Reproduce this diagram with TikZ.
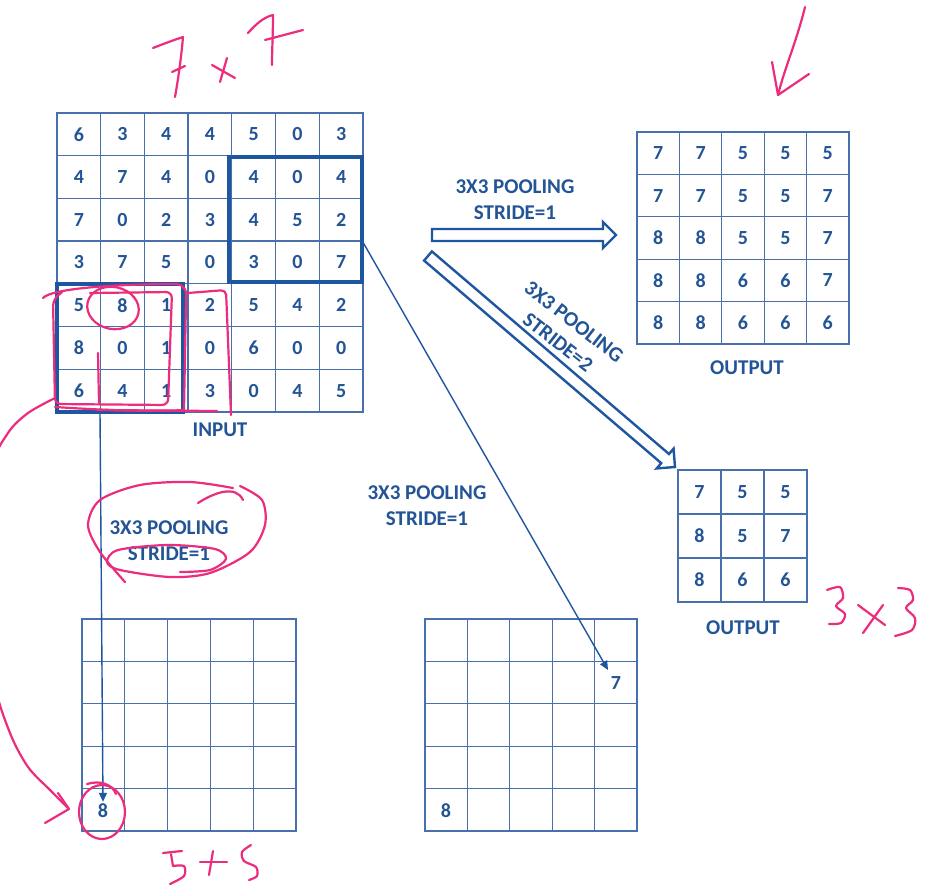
\documentclass[tikz,border=0pt]{standalone}
\usepackage{fontspec}
\setmainfont{Carlito}
\usetikzlibrary{arrows.meta,calc}
\definecolor{txtblue}{RGB}{34,84,150}
\definecolor{gridblue}{RGB}{72,112,172}
\definecolor{boxblue}{RGB}{30,86,160}
\definecolor{pinkink}{RGB}{236,44,124}
\tikzset{
  gridline/.style={draw=gridblue, line width=1.3pt},
  gridframe/.style={draw=gridblue, line width=1.3pt, inner sep=0pt, outer sep=0pt},
  winbox/.style={draw=boxblue, line width=3.6pt, inner sep=0pt, outer sep=0pt},
  digit/.style={text=txtblue, font=\fontsize{20}{24}\selectfont\bfseries, inner sep=2pt},
  lbl/.style={text=txtblue, font=\fontsize{21}{27}\selectfont\bfseries, inner sep=1pt, align=center},
  thinarrow/.style={draw=boxblue, line width=1.4pt, -{Triangle[length=9pt,width=8pt]}},
  hollow/.style={draw=boxblue, line width=2.4pt, line join=miter},
  pen/.style={draw=pinkink, line width=2.2pt, line cap=round, line join=round},
}
\newcommand\pgrid[6]{%
  \pgfmathsetmacro\gw{#4*#5}\pgfmathsetmacro\gh{#4*#6}%
  \node[gridframe, anchor=north west, minimum width=\gw pt, minimum height=\gh pt] (#1) at (#2,#3) {};
  \pgfmathtruncatemacro\nm{#4-1}%
  \foreach \i in {1,...,\nm}{
    \draw[gridline] ({#2+\i*#5},#3) -- ({#2+\i*#5},{#3+\gh});
    \draw[gridline] (#2,{#3+\i*#6}) -- ({#2+\gw},{#3+\i*#6});
  }}
\newcommand\hollowarrow[2]{%
  \path ($(#2)!13pt!(#1)$) coordinate (hb);
  \draw[hollow] ($(#1)!6pt!90:(#2)$) -- ($(hb)!6pt!90:(#2)$) -- ($(hb)!13pt!90:(#2)$)
    -- (#2) -- ($(hb)!13pt!-90:(#2)$) -- ($(hb)!6pt!-90:(#2)$) -- ($(#1)!6pt!-90:(#2)$) -- cycle;}
\begin{document}
\begin{tikzpicture}[x=1pt,y=-1pt]
\useasboundingbox (0,0) rectangle (931,896);
\fill[white] (0,0) rectangle (931,896);

% ---------- grids ----------
\pgrid{input}{57}{113}{7}{43.71}{42.71}
\pgrid{outA}{637}{132}{5}{42.4}{42.4}
\pgrid{outB}{678}{470}{3}{43}{44}
\pgrid{resL}{82}{619}{5}{42.8}{42.4}
\pgrid{resR}{425}{619}{5}{42.4}{42.4}

% ---------- digits ----------
\foreach \row [count=\r from 0] in {{6,3,4,4,5,0,3},{4,7,4,0,4,0,4},{7,0,2,3,4,5,2},{3,7,5,0,3,0,7},{5,8,1,2,5,4,2},{8,0,1,0,6,0,0},{6,4,1,3,0,4,5}}{
  \foreach \v [count=\c from 0] in \row {
    \node[digit] (in-\r-\c) at ({57+(\c+0.5)*43.71},{113+(\r+0.5)*42.71}) {\v};
  }}
\foreach \row [count=\r from 0] in {{7,7,5,5,5},{7,7,5,5,7},{8,8,5,5,7},{8,8,6,6,7},{8,8,6,6,6}}{
  \foreach \v [count=\c from 0] in \row {
    \node[digit] (oa-\r-\c) at ({637+(\c+0.5)*42.4},{132+(\r+0.5)*42.4}) {\v};
  }}
\foreach \row [count=\r from 0] in {{7,5,5},{8,5,7},{8,6,6}}{
  \foreach \v [count=\c from 0] in \row {
    \node[digit] (ob-\r-\c) at ({678+(\c+0.5)*43},{470+(\r+0.5)*44}) {\v};
  }}
\node[digit] (eightL) at (103,811) {8};
\node[digit] (eightR) at (446,811) {8};
\node[digit] (seven) at (616,683) {7};

% ---------- windows ----------
\node[winbox, anchor=north west, minimum width=133pt, minimum height=125pt] (winTR) at (229,157) {};
\node[winbox, anchor=north west, minimum width=126pt, minimum height=128pt] (winBL) at (57,284) {};

% ---------- labels ----------
\node[lbl] (inlbl) at (220,430) {INPUT};
\node[lbl] (outAlbl) at (747,368) {OUTPUT};
\node[lbl] (outBlbl) at (743,628) {OUTPUT};
\node[lbl] (t1) at (515,200) {3X3 POOLING\\[-1pt]STRIDE=1};
\node[lbl] (t2) at (427,506) {3X3 POOLING\\[-1pt]STRIDE=1};
\node[lbl] (t3) at (169,541) {3X3 POOLING\\[-1pt]STRIDE=1};
\node[lbl, rotate=-38] (t4) at (566,332) {3X3 POOLING\\[-1pt]STRIDE=2};

% ---------- arrows ----------
\coordinate (a1s) at (432,235);
\coordinate (a1e) at (616,235);
\hollowarrow{a1s}{a1e}
\coordinate (a2s) at (428,256);
\coordinate (a2e) at (675,467);
\hollowarrow{a2s}{a2e}
\coordinate (tip7) at (608,670);
\draw[thinarrow] ([yshift=-21pt]winTR.east) -- (tip7);
\draw[thinarrow] ([xshift=-20pt]winBL.south) -- (eightL.north);

% ---------- pink ink ----------
% 7 x 7
\draw[pen] (153,48) .. controls (163,44) and (174,40) .. (183,37) .. controls (181,60) and (178,80) .. (175,97);
\draw[pen] (172,72) -- (185,66);
\draw[pen] (212,65) -- (235,78);
\draw[pen] (227,58) -- (220,82);
\draw[pen] (248,33) .. controls (256,24) and (264,17) .. (273,15) .. controls (273,32) and (272,50) .. (272,65);
\draw[pen] (265,40) -- (303,30);
% top-right arrow
\draw[pen] (805,7) .. controls (797,40) and (784,70) .. (778,95);
\draw[pen] (772,62) -- (778,95) -- (809,74);
% 3x3
\draw[pen] plot[smooth] coordinates {(827,590) (840,587) (843,598) (836,606) (845,614) (841,623) (829,624)};
\draw[pen] (858,605) -- (885,625);
\draw[pen] (883,605) -- (863,633);
\draw[pen] plot[smooth] coordinates {(898,588) (910,590) (913,600) (906,608) (915,618) (912,630) (895,636)};
% 5x5
\draw[pen] (163,853) -- (182,851);
\draw[pen] (171,854) -- (173,866);
\draw[pen] plot[smooth] coordinates {(173,866) (184,866) (184,876) (170,884)};
\draw[pen] (200,862) -- (227,862);
\draw[pen] (213,851) -- (209,875);
\draw[pen] plot[smooth] coordinates {(251,845) (242,852) (244,861) (256,867) (257,876) (249,880)};
% loops round the pooling windows
\draw[pen] (43,298) .. controls (52,288) and (120,284) .. (176,284) .. controls (185,285) and (187,291) .. (186,300) -- (184,410) .. controls (150,412) and (100,410) .. (55,407);
\draw[pen, rounded corners=6pt] (90,293) -- (172,292) -- (168,405) -- (55,404) -- (53,300) -- (62,292);
\draw[pen, rounded corners=5pt] (188,293) -- (226,290) -- (231,415);
\draw[pen] (97,410) -- (217,411);
\draw[pen] (98,353) -- (99,403);
\draw[pen, rotate around={-12:(113,308)}] (113,308) ellipse (26 and 21);
% curve from window to result cell
\draw[pen] plot[smooth] coordinates {(55,398) (28,413) (8,433) (-8,470) (-14,580) (-6,680) (10,733) (28,767) (50,790) (68,808)};
\draw[pen] (58,793) -- (69,809) -- (45,823);
\draw[pen] (102,812) ellipse (23 and 27);
\draw[pen] (87,784) .. controls (100,780) and (112,784) .. (116,794);
% ellipse round the pooling label
\draw[pen] (198,503) .. controls (215,492) and (236,485) .. (243,500);
\draw[pen] plot[smooth] coordinates {(233,488) (190,482) (140,485) (100,500) (88,525) (100,552) (125,582)};
\draw[pen] plot[smooth] coordinates {(240,486) (262,500) (265,525) (250,552) (210,573) (170,577) (120,570) (107,562) (118,550) (168,545) (215,549) (226,559) (210,570) (180,572)};
\end{tikzpicture}
\end{document}
